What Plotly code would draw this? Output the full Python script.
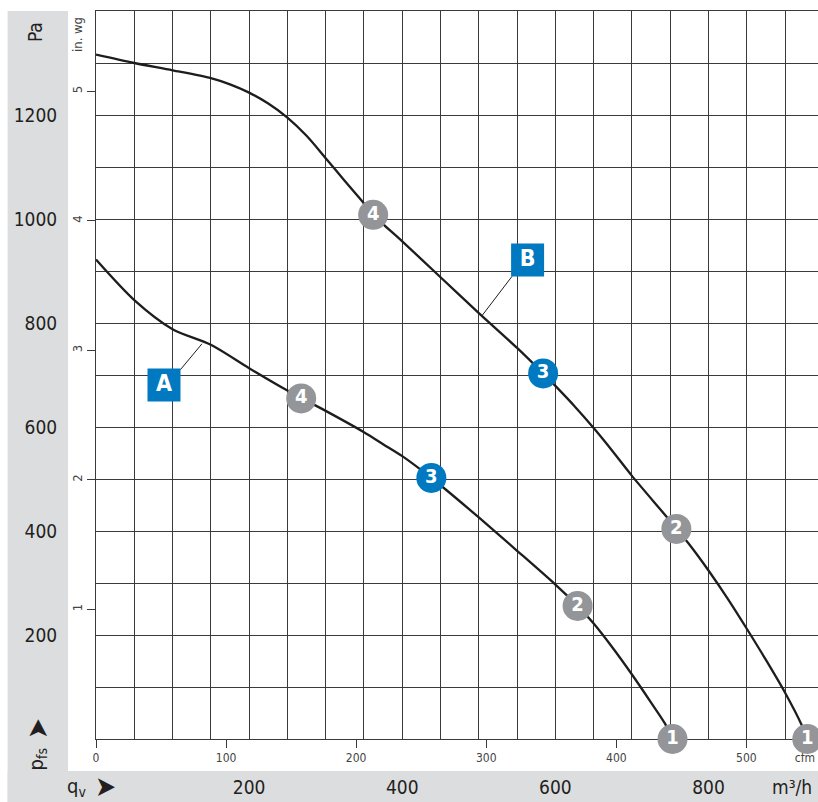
import plotly.graph_objects as go

# ---------------- data ----------------
PA_PER_INWG = 249.089
M3H_PER_CFM = 1.699

# Curve A (flow m³/h, static pressure Pa)
a_flow = [0, 50, 100, 150, 200, 250, 300, 350, 375, 400, 425, 438, 450, 500, 550, 600, 629, 650, 675, 700, 725, 743, 753]
a_pres = [922, 844, 788, 758, 713, 670, 631, 590, 567, 544, 517, 502, 488, 426, 362, 297, 256, 222, 175, 124, 70, 30, 0]

# Curve B
b_flow = [0, 50, 100, 150, 175, 200, 225, 250, 275, 300, 325, 350, 362, 400, 450, 500, 550, 584, 600, 625, 650, 675, 700, 750, 758, 775, 800, 825, 850, 875, 900, 922, 929]
b_pres = [1316, 1300, 1286, 1271, 1259, 1243, 1222, 1195, 1160, 1117, 1073, 1030, 1008, 957, 888, 819, 752, 703, 679, 640, 598, 553, 506, 419, 404, 374, 324, 270, 212, 152, 89, 26, 0]

# Operating-point markers
a_mark_flow = [753, 629, 438, 268]
a_mark_pres = [0, 256, 502, 655]
b_mark_flow = [929, 758, 584, 362]
b_mark_pres = [0, 404, 703, 1008]
mark_text = ["1", "2", "3", "4"]
mark_kind = ["gray", "gray", "blue", "gray"]

# Curve labels (box position, leader line to curve)
label_text = ["A", "B"]
label_flow = [88.8, 563.7]
label_pres = [680.6, 921.0]
leader_a_flow = [110.1, 138.4]
leader_a_pres = [710.0, 760.0]
leader_b_flow = [543.3, 504.1]
leader_b_pres = [889.6, 814.0]

# Axis ticks
pa_ticks = [200, 400, 600, 800, 1000, 1200]
m3h_ticks = [200, 400, 600, 800]
inwg_ticks = [1, 2, 3, 4, 5]
cfm_ticks = [0, 100, 200, 300, 400, 500, 545]
cfm_text = ["0", "100", "200", "300", "400", "500", "cfm"]

X_MAX = 943.0
Y_MAX = 1400.0

# ---------------- style ----------------
FONT = "DejaVu Sans Condensed, Liberation Sans Narrow, Arial Narrow, sans-serif"
GRID = "#3a3a3a"
BAND = "#dcdddf"
GRAYC = "#939598"
BLUEC = "#0079c1"
TXT = "#231f20"

fig = go.Figure()

for fx, fy in [(a_flow, a_pres), (b_flow, b_pres)]:
    fig.add_trace(go.Scatter(x=fx, y=fy, mode="lines",
                             line=dict(color="#1d1d1b", width=2.3, shape="spline", smoothing=0.8),
                             hoverinfo="skip", showlegend=False))

for lx, ly in [(leader_a_flow, leader_a_pres), (leader_b_flow, leader_b_pres)]:
    fig.add_trace(go.Scatter(x=lx, y=ly, mode="lines", line=dict(color="#1d1d1b", width=1),
                             hoverinfo="skip", showlegend=False))

colors = [GRAYC if k == "gray" else BLUEC for k in mark_kind]
for mx, my in [(a_mark_flow, a_mark_pres), (b_mark_flow, b_mark_pres)]:
    fig.add_trace(go.Scatter(x=mx, y=my, mode="markers+text", text=mark_text,
                             textposition="middle center",
                             textfont=dict(family=FONT, size=20, color="white", weight="bold"),
                             marker=dict(size=30, color=colors, line=dict(width=0)),
                             cliponaxis=False, hoverinfo="skip", showlegend=False))

fig.add_trace(go.Scatter(x=label_flow, y=label_pres, mode="markers+text", text=label_text,
                         textposition="middle center",
                         textfont=dict(family=FONT, size=23, color="white", weight="bold"),
                         marker=dict(size=33, symbol="square", color=BLUEC, line=dict(width=0)),
                         cliponaxis=False, hoverinfo="skip", showlegend=False))

# secondary axes carriers (invisible)
fig.add_trace(go.Scatter(x=[0], y=[0], xaxis="x2", yaxis="y", mode="markers",
                         marker=dict(opacity=0), hoverinfo="skip", showlegend=False))
fig.add_trace(go.Scatter(x=[0], y=[0], xaxis="x", yaxis="y2", mode="markers",
                         marker=dict(opacity=0), hoverinfo="skip", showlegend=False))


def ann(text, x, y, size, angle=0, color=TXT):
    return dict(text=text, xref="paper", yref="paper", x=x, y=y, textangle=angle,
                xanchor="center", yanchor="middle", showarrow=False,
                font=dict(size=size, color=color))


fig.update_layout(
    width=818, height=802,
    margin=dict(l=96, r=0, t=11, b=63),
    paper_bgcolor="white", plot_bgcolor="white",
    font=dict(family=FONT, color=TXT),
    xaxis=dict(range=[0, X_MAX], tickvals=m3h_ticks, ticktext=[str(v) for v in m3h_ticks],
               ticks="", showgrid=True, gridcolor=GRID, gridwidth=1,
               minor=dict(tick0=0, dtick=50, showgrid=True, gridcolor=GRID, gridwidth=1),
               showline=True, linecolor=GRID, linewidth=1, mirror=True, zeroline=False,
               tickfont=dict(size=19, color=TXT), ticklabelstandoff=31,
               layer="below traces", fixedrange=True),
    xaxis2=dict(range=[0, X_MAX / M3H_PER_CFM], overlaying="x", side="bottom", anchor="y",
                tickvals=cfm_ticks, ticktext=cfm_text, ticks="outside", ticklen=8,
                tickcolor=GRID, showgrid=False, zeroline=False, showline=False,
                tickfont=dict(size=12, color="#444"), layer="below traces"),
    yaxis=dict(range=[0, Y_MAX], tickvals=pa_ticks, ticktext=[str(v) for v in pa_ticks],
               ticks="", showgrid=True, gridcolor=GRID, gridwidth=1,
               minor=dict(tick0=0, dtick=100, showgrid=True, gridcolor=GRID, gridwidth=1),
               showline=True, linecolor=GRID, linewidth=1, zeroline=False,
               tickfont=dict(size=19, color=TXT), ticklabelstandoff=34,
               layer="below traces", fixedrange=True),
    yaxis2=dict(range=[0, Y_MAX / PA_PER_INWG], overlaying="y", side="left", anchor="x",
                tickvals=inwg_ticks, ticks="outside", ticklen=8, tickcolor=GRID,
                tickangle=-90, showgrid=False, zeroline=False, showline=False,
                tickfont=dict(size=13, color="#444"), layer="below traces"),
    shapes=[
        dict(type="rect", xref="paper", yref="paper", x0=-0.1224, x1=-0.0388, y0=-0.0865, y1=1.0,
             fillcolor=BAND, line=dict(width=0), layer="below"),
        dict(type="rect", xref="paper", yref="paper", x0=-0.1224, x1=1.0, y0=-0.0865, y1=-0.0440,
             fillcolor=BAND, line=dict(width=0), layer="below"),
    ],
    annotations=[
        ann("Pa", -0.0845, 0.971, 19, -90),
        ann("in. wg", -0.0263, 0.967, 13, -90, "#444"),
        ann("p<sub>fs</sub>", -0.0817, -0.028, 20, -90),
        ann("➤", -0.0817, 0.0137, 28, -90),
        ann("q<sub>v</sub>", -0.0277, -0.0659, 20),
        ann("➤", 0.0125, -0.0659, 28),
        ann("m³/h", 0.964, -0.0659, 19),
    ],
)

fig.write_html("out.html", config={"displayModeBar": False},
               post_script="document.body.style.margin='0';")
